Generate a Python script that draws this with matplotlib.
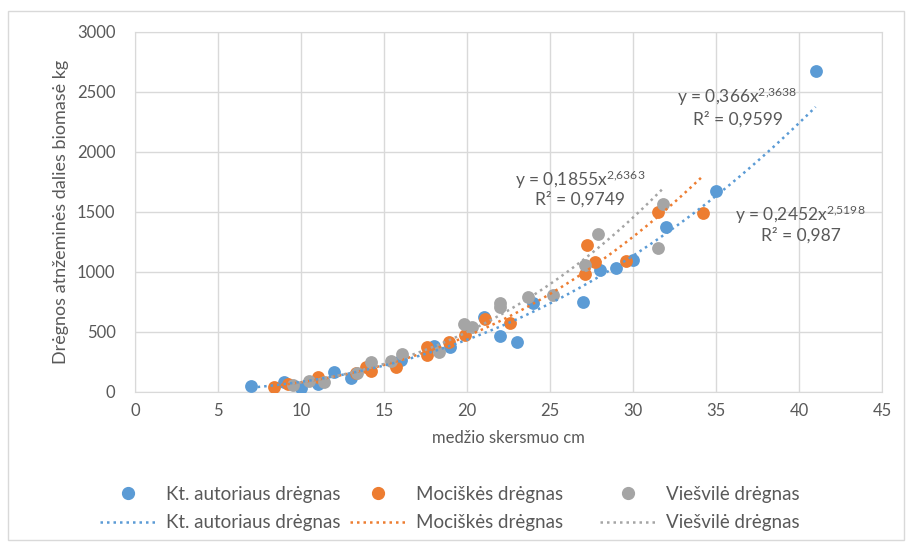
import matplotlib
matplotlib.use("Agg")
import matplotlib.pyplot as plt
from matplotlib.patches import Rectangle
from matplotlib.lines import Line2D
import numpy as np

plt.rcParams['font.family'] = ['Lato', 'DejaVu Sans']
plt.rcParams['mathtext.fontset'] = 'custom'
plt.rcParams['mathtext.rm'] = 'Lato'
plt.rcParams['mathtext.it'] = 'Lato:italic'

# data
kt_x = [7, 9, 10, 11, 11, 12, 13, 16, 18, 19, 21, 22, 23, 24, 27, 28, 29, 30, 32, 35, 41]
kt_y = [50, 86, 36, 67, 75, 169, 117, 265, 383, 372, 622, 467, 414, 739, 753, 1017, 1031, 1100, 1372, 1678, 2675]

moc_x = [8.4, 9.2, 11.0, 13.3, 13.9, 14.2, 15.7, 17.6, 17.6, 18.9, 19.9, 21.1, 22.6,
         27.1, 27.2, 27.7, 29.6, 31.5, 34.2]
moc_y = [39, 67, 122, 161, 206, 178, 206, 378, 308, 419, 475, 606, 578,
         981, 1225, 1086, 1094, 1503, 1494]

vie_x = [9.5, 10.5, 11.4, 13.4, 14.2, 15.4, 16.1, 18.3, 19.8, 20.3, 22.0, 22.0, 23.7,
         25.2, 27.1, 27.9, 31.5, 31.8]
vie_y = [58, 94, 86, 156, 247, 261, 317, 336, 564, 539, 744, 710, 789,
         808, 1058, 1317, 1197, 1567]

# power trendline coefficients shown on the chart (y = a * x^b)
fit_a = [0.366, 0.2452, 0.1855]
fit_b = [2.3638, 2.5198, 2.6363]
fit_r2 = ['0,9599', '0,987', '0,9749']
fit_a_txt = ['0,366', '0,2452', '0,1855']
fit_b_txt = ['2,3638', '2,5198', '2,6363']

names = ['Kt. autoriaus drėgnas', 'Mociškės drėgnas', 'Viešvilė drėgnas']
colors = ['#5B9BD5', '#ED7D31', '#A5A5A5']
txt_c = '#595959'
grid_c = '#D9D9D9'

fig = plt.figure(figsize=(9.08, 5.44), dpi=100)
ax = fig.add_axes([135 / 908, 1 - 392 / 544, (882 - 135) / 908, (392 - 32) / 544])

series = [(kt_x, kt_y), (moc_x, moc_y), (vie_x, vie_y)]
for i, (xs, ys) in enumerate(series):
    ax.scatter(xs, ys, s=85, color=colors[i], zorder=3, linewidths=0)
for i, (xs, ys) in enumerate(series):
    xx = np.linspace(min(xs), max(xs), 200)
    ax.plot(xx, fit_a[i] * xx ** fit_b[i], color=colors[i], lw=1.8,
            linestyle=(0, (1, 1.6)), zorder=4)

ax.set_xlim(0, 45)
ax.set_ylim(0, 3000)
ax.set_xticks(range(0, 46, 5))
ax.set_yticks(range(0, 3001, 500))
ax.grid(True, color=grid_c, lw=1)
ax.set_axisbelow(True)
for sp in ax.spines.values():
    sp.set_color(grid_c)
ax.tick_params(length=0, labelsize=12, labelcolor=txt_c)
ax.tick_params(axis='y', pad=14)
ax.tick_params(axis='x', pad=8)
ax.set_xlabel('medžio skersmuo cm', fontsize=12, color=txt_c, labelpad=8)
ax.set_ylabel('Drėgnos atnžeminės dalies biomasė kg', fontsize=13, color=txt_c, labelpad=6)

# trendline equations
lab_pos = [(36.3, 2458, 2275), (40.1, 1475, 1308), (26.8, 1767, 1608)]
for i in range(3):
    x0, y1, y2 = lab_pos[i]
    ax.text(x0, y1, r'y = %sx$^{\mathregular{%s}}$' % (fit_a_txt[i], fit_b_txt[i].replace(',', '{,}')),
            ha='center', va='center', fontsize=12.5, color=txt_c, zorder=5)
    ax.text(x0, y2, 'R² = %s' % fit_r2[i], ha='center', va='center',
            fontsize=12.5, color=txt_c, zorder=5)

# legend: one small block per series, marker row above line row
leg_x = [100 / 908, 350 / 908, 600 / 908]
for i in range(3):
    h1 = Line2D([], [], marker='o', ls='none', color=colors[i], markersize=8.5)
    h2 = Line2D([], [], ls=(0, (1, 1.6)), lw=1.8, color=colors[i])
    fig.legend([h1, h2], [names[i], names[i]], loc='center left',
               bbox_to_anchor=(leg_x[i], 1 - 508.5 / 544), frameon=False,
               fontsize=13.5, labelcolor=txt_c, handlelength=3.0,
               handletextpad=0.5, labelspacing=0.6, borderpad=0, borderaxespad=0)

fig.patches.append(Rectangle((8 / 908, 1 - 540 / 544), 896 / 908, 529 / 544,
                             transform=fig.transFigure, fill=False,
                             edgecolor=grid_c, lw=1))

fig.savefig('out.png', dpi=100)
